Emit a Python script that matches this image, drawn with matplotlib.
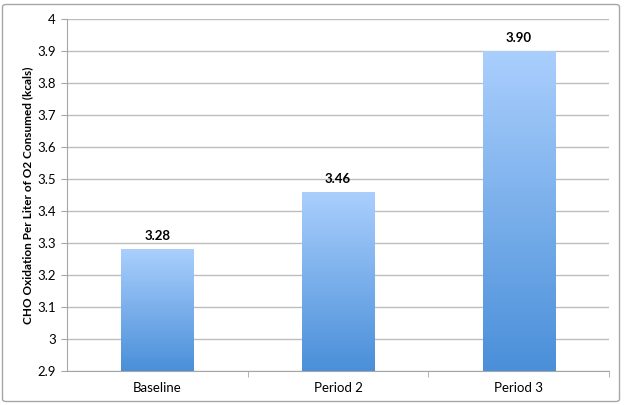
import matplotlib
matplotlib.use("Agg")
import matplotlib.pyplot as plt
import numpy as np
from matplotlib.patches import FancyBboxPatch
from matplotlib.colors import LinearSegmentedColormap

categories = ["Baseline", "Period 2", "Period 3"]
values = [3.28, 3.46, 3.90]
labels = ["3.28", "3.46", "3.90"]

plt.rcParams['font.family'] = ['Lato', 'DejaVu Sans']

fig = plt.figure(figsize=(6.28, 4.05), dpi=100)
ax = fig.add_axes([67/628, 1 - 371/405, (609-67)/628, (371-19)/405])

# outer rounded border
border = FancyBboxPatch((2.5/628, 3.5/405), 617/628, 397/405,
                        boxstyle="round,pad=0,rounding_size=0.006",
                        transform=fig.transFigure, fill=False,
                        edgecolor="#a6a6a6", linewidth=1.0)
fig.patches.append(border)

ymin, ymax = 2.9, 4.0

cmap = LinearSegmentedColormap.from_list("bar", ["#4a8fd9", "#aacffd"])
grad = np.linspace(0, 1, 256).reshape(-1, 1)
bars = ax.bar(range(len(categories)), np.array(values) - ymin, bottom=ymin,
              width=0.4, color="none", zorder=3)
for b in bars:
    x0, y0 = b.get_x(), b.get_y()
    w, h = b.get_width(), b.get_height()
    im = ax.imshow(grad, extent=[x0, x0 + w, y0, y0 + h], origin="lower",
                   cmap=cmap, aspect="auto", zorder=3)
    im.set_clip_path(b)

ax.set_xlim(-0.5, len(categories) - 0.5)
ax.set_ylim(ymin, ymax)

for i, (v, t) in enumerate(zip(values, labels)):
    ax.text(i, v + 0.022, t, ha="center", va="bottom", fontsize=9.5,
            fontweight="bold", color="black")

yt = np.round(np.arange(2.9, 4.01, 0.1), 1)
ax.set_yticks(yt)
ax.set_yticklabels([f"{y:g}" for y in yt])
ax.yaxis.grid(True, color="#bdbdbd", linewidth=1.0, zorder=0)
ax.set_axisbelow(True)

ax.set_xticks(range(len(categories)))
ax.set_xticklabels(categories)
ax.set_xticks([0.5, 1.5, 2.5], minor=True)
ax.tick_params(axis="x", which="major", length=0, pad=8, labelsize=9.5)
ax.tick_params(axis="x", which="minor", length=4, color="#a6a6a6", direction="out")
ax.tick_params(axis="y", length=4, color="#a6a6a6", labelsize=9.5, pad=4)

for s in ["top", "right"]:
    ax.spines[s].set_visible(False)
for s in ["left", "bottom"]:
    ax.spines[s].set_color("#a6a6a6")

ax.set_ylabel("CHO Oxidation Per Liter of O2 Consumed (kcals)", fontsize=8.5,
              fontweight="bold")
ax.yaxis.set_label_coords(-0.062, 0.5)

fig.savefig("out.png", dpi=100)
